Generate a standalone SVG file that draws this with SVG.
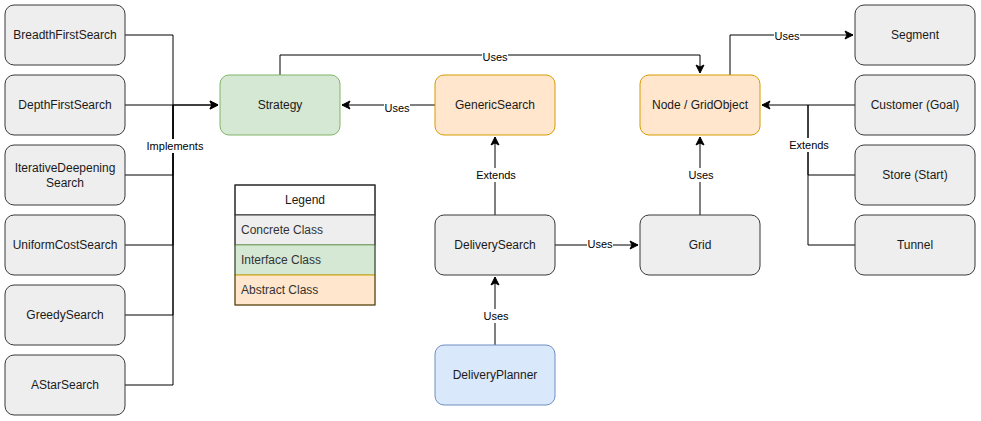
<svg xmlns="http://www.w3.org/2000/svg" width="981" height="421" viewBox="0 0 981 421">
<style>
.n rect{stroke-width:1}
.c rect{fill:#eeeeee;stroke:#36393d}
.i rect{fill:#d5e8d4;stroke:#82b366}
.a rect{fill:#ffe6cc;stroke:#d79b00}
.b rect{fill:#dae8fc;stroke:#6c8ebf}
text{font-family:"Liberation Sans",Arial,sans-serif;font-size:12px;fill:#1a1a1a}
.t{text-anchor:middle;dominant-baseline:central}
.lbl{font-size:11px;fill:#000;text-anchor:middle;dominant-baseline:central}
.lb{fill:#ffffff;stroke:none}
.e{fill:none;stroke:#000;stroke-width:1}
.lg{text-anchor:start;dominant-baseline:central;fill:#333}
</style>
<defs>
<marker id="arr" markerUnits="userSpaceOnUse" markerWidth="10" markerHeight="10" viewBox="0 0 10 10" refX="9" refY="5" orient="auto">
<path d="M1,1 L9,5 L1,9 L3,5 Z" fill="#000" stroke="#000" stroke-width="1"/>
</marker>
</defs>
<rect width="981" height="421" fill="#ffffff"/>

<g id="connectors">
<path class="e" d="M125,35 H173 V105 H218" marker-end="url(#arr)"/>
<path class="e" d="M125,105 H218" marker-end="url(#arr)"/>
<path class="e" d="M125,175 H173 V105"/>
<path class="e" d="M125,245 H173 V105"/>
<path class="e" d="M125,315 H173 V105"/>
<path class="e" d="M125,385 H173 V105"/>
<rect class="lb" x="146" y="139" width="58" height="14"/>
<text class="lbl" x="175" y="146">Implements</text>

<path class="e" d="M280,75 V55 H700 V73" marker-end="url(#arr)"/>
<rect class="lb" x="482" y="50" width="26" height="14"/>
<text class="lbl" x="495" y="57">Uses</text>

<path class="e" d="M435,105 H342" marker-end="url(#arr)"/>
<rect class="lb" x="384" y="101" width="26" height="14"/>
<text class="lbl" x="397" y="108">Uses</text>

<path class="e" d="M495,215 V137" marker-end="url(#arr)"/>
<rect class="lb" x="475" y="168" width="40" height="14"/>
<text class="lbl" x="496" y="175">Extends</text>

<path class="e" d="M495,345 V277" marker-end="url(#arr)"/>
<rect class="lb" x="482" y="309" width="26" height="14"/>
<text class="lbl" x="496" y="316">Uses</text>

<path class="e" d="M555,245 H638" marker-end="url(#arr)"/>
<rect class="lb" x="587" y="237" width="26" height="14"/>
<text class="lbl" x="600" y="244">Uses</text>

<path class="e" d="M700,215 V137" marker-end="url(#arr)"/>
<rect class="lb" x="687" y="168" width="26" height="14"/>
<text class="lbl" x="701" y="175">Uses</text>

<path class="e" d="M730,75 V35 H853" marker-end="url(#arr)"/>
<rect class="lb" x="774" y="29" width="26" height="14"/>
<text class="lbl" x="787" y="36">Uses</text>

<path class="e" d="M855,105 H762" marker-end="url(#arr)"/>
<path class="e" d="M855,175 H808 V105"/>
<path class="e" d="M855,245 H808 V105"/>
<rect class="lb" x="789" y="138" width="40" height="14"/>
<text class="lbl" x="809" y="145">Extends</text>
</g>

<g id="BreadthFirstSearch" class="n c"><rect x="5" y="5" width="120" height="60" rx="9"/><text class="t" x="65" y="35">BreadthFirstSearch</text></g>
<g id="DepthFirstSearch" class="n c"><rect x="5" y="75" width="120" height="60" rx="9"/><text class="t" x="65" y="105">DepthFirstSearch</text></g>
<g id="IterativeDeepeningSearch" class="n c"><rect x="5" y="145" width="120" height="60" rx="9"/><text class="t" x="65" y="168">IterativeDeepening</text><text class="t" x="65" y="183">Search</text></g>
<g id="UniformCostSearch" class="n c"><rect x="5" y="215" width="120" height="60" rx="9"/><text class="t" x="65" y="245">UniformCostSearch</text></g>
<g id="GreedySearch" class="n c"><rect x="5" y="285" width="120" height="60" rx="9"/><text class="t" x="65" y="315">GreedySearch</text></g>
<g id="AStarSearch" class="n c"><rect x="5" y="355" width="120" height="60" rx="9"/><text class="t" x="65" y="385">AStarSearch</text></g>

<g id="Strategy" class="n i"><rect x="220" y="75" width="120" height="60" rx="9"/><text class="t" x="280" y="105">Strategy</text></g>
<g id="GenericSearch" class="n a"><rect x="435" y="75" width="120" height="60" rx="9"/><text class="t" x="495" y="105">GenericSearch</text></g>
<g id="NodeGridObject" class="n a"><rect x="640" y="75" width="120" height="60" rx="9"/><text class="t" x="700" y="105">Node / GridObject</text></g>
<g id="DeliverySearch" class="n c"><rect x="435" y="215" width="120" height="60" rx="9"/><text class="t" x="495" y="245">DeliverySearch</text></g>
<g id="Grid" class="n c"><rect x="640" y="215" width="120" height="60" rx="9"/><text class="t" x="700" y="245">Grid</text></g>
<g id="DeliveryPlanner" class="n b"><rect x="435" y="345" width="120" height="60" rx="9"/><text class="t" x="495" y="375">DeliveryPlanner</text></g>

<g id="Segment" class="n c"><rect x="855" y="5" width="120" height="60" rx="9"/><text class="t" x="915" y="35">Segment</text></g>
<g id="CustomerGoal" class="n c"><rect x="855" y="75" width="120" height="60" rx="9"/><text class="t" x="915" y="105">Customer (Goal)</text></g>
<g id="StoreStart" class="n c"><rect x="855" y="145" width="120" height="60" rx="9"/><text class="t" x="915" y="175">Store (Start)</text></g>
<g id="Tunnel" class="n c"><rect x="855" y="215" width="120" height="60" rx="9"/><text class="t" x="915" y="245">Tunnel</text></g>

<g id="Legend">
<rect x="235" y="185" width="140" height="30" fill="#ffffff" stroke="#000"/>
<text class="t" x="305" y="200">Legend</text>
<rect x="235" y="215" width="140" height="30" fill="#eeeeee" stroke="#36393d"/>
<text class="lg" x="241" y="230">Concrete Class</text>
<rect x="235" y="245" width="140" height="30" fill="#d5e8d4" stroke="#82b366"/>
<text class="lg" x="241" y="260">Interface Class</text>
<rect x="235" y="275" width="140" height="30" fill="#ffe6cc" stroke="#d79b00"/>
<text class="lg" x="241" y="290">Abstract Class</text>
<rect x="235" y="185" width="140" height="120" fill="none" stroke="#36393d"/>
</g>
</svg>
